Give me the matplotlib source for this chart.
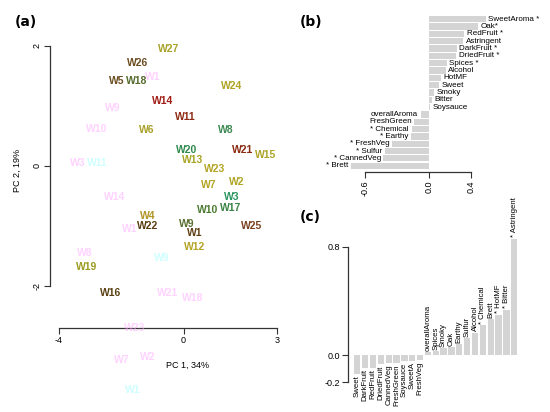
import matplotlib.pyplot as plt

plt.rcParams['font.family'] = ['Liberation Sans', 'DejaVu Sans']

# ---- panel (a): PCA scores ----
wine_names = ["W27", "W26", "W5", "W18", "W24", "W14", "W11", "W6", "W8", "W20",
              "W21", "W15", "W13", "W23", "W7", "W2", "W3", "W10", "W17", "W4",
              "W22", "W9", "W1", "W25", "W12", "W19", "W16"]
pc1 = [-0.47, -1.46, -2.14, -1.50, 1.56, -0.66, 0.05, -1.17, 1.36, 0.11,
       1.91, 2.65, 0.30, 1.00, 0.82, 1.71, 1.56, 0.78, 1.52, -1.14,
       -1.14, 0.11, 0.37, 2.20, 0.37, -3.10, -2.33]
pc2 = [1.95, 1.72, 1.42, 1.42, 1.33, 1.08, 0.82, 0.60, 0.60, 0.27,
       0.27, 0.18, 0.10, -0.05, -0.32, -0.27, -0.52, -0.73, -0.70, -0.83,
       -1.00, -0.97, -1.12, -1.00, -1.35, -1.68, -2.12]
wine_colors = ["#a8a228", "#6b4c1e", "#6b4c1e", "#566a2c", "#b0a424", "#a01c14",
               "#8e2a12", "#aaa026", "#3e8a52", "#2e8a4c", "#8a2a0e", "#aca226",
               "#a8a424", "#b4a424", "#b4a424", "#b0a424", "#2a9460", "#4a7a30",
               "#3a8444", "#b09424", "#5a3c12", "#5a7030", "#5e3e12", "#7a4220",
               "#b4a424", "#9a9a20", "#5a4012"]

# faint offset copies of labels seen in the figure
ghost_names = ["W14", "W3", "W11", "W10", "W9", "W1", "W1", "W8", "W9", "W21",
               "W18", "W23", "W7", "W2", "W1"]
ghost_x = [-2.20, -3.39, -2.78, -2.78, -2.27, -0.98, -1.72, -3.17, -0.69, -0.50,
           0.30, -1.56, -1.98, -1.14, -1.62]
ghost_y = [-0.52, 0.05, 0.05, 0.62, 0.97, 1.48, -1.05, -1.45, -1.53, -2.12,
           -2.20, -2.70, -3.23, -3.18, -3.73]
ghost_colors = ["#ffa8ff", "#ffa8ff", "#a0ffff", "#ffa8ff", "#ffa8ff", "#ffa8ff",
                "#ffa8ff", "#ffa8ff", "#a0ffff", "#ffa8ff", "#ffa8ff", "#ffa8ff",
                "#ffa8ff", "#ffa8ff", "#a0ffff"]

# ---- panel (b): PC1 loadings ----
b_labels = ["SweetAroma *", "Oak*", "RedFruit *", "Astringent", "DarkFruit *",
            "DriedFruit *", "Spices *", "Alcohol", "HotMF", "Sweet", "Smoky",
            "Bitter", "Soysauce", "overallAroma", "FreshGreen", "* Chemical",
            "* Earthy", "* FreshVeg", "* Sulfur", "* CannedVeg", "* Brett"]
b_values = [0.535, 0.465, 0.33, 0.32, 0.26, 0.255, 0.167, 0.157, 0.113, 0.094,
            0.047, 0.028, 0.006, -0.079, -0.138, -0.164, -0.17, -0.346, -0.418,
            -0.43, -0.736]

# ---- panel (c): loadings ----
c_labels = ["Sweet", "DarkFruit", "RedFruit", "DriedFruit", "CannedVeg",
            "FreshGreen", "Soysauce", "SweetA", "FreshVeg", "overallAroma",
            "Spices", "Smoky", "Oak", "Earthy", "Sulfur", "Alcohol", "* Chemical",
            "Brett", "* HotMF", "* Bitter", "* Astringent"]
c_values = [-0.14, -0.094, -0.094, -0.067, -0.062, -0.062, -0.044, -0.044, -0.04,
            0.022, 0.03, 0.049, 0.057, 0.081, 0.123, 0.165, 0.22, 0.267, 0.30,
            0.336, 0.862]

W, H = 550, 412
fig = plt.figure(figsize=(W / 100, H / 100), dpi=100)


def px_axes(left, top, right, bottom):
    return fig.add_axes([left / W, 1 - bottom / H, (right - left) / W, (bottom - top) / H])


def r_style(ax):
    for s in ax.spines.values():
        s.set_visible(False)
    ax.tick_params(length=4, width=0.8, labelsize=6.5, color="#333333", pad=2)


# (a)
ax = px_axes(50, 40, 280, 328)
ax.set_xlim(-4.29, 3.10)
ax.set_ylim(-2.70, 2.10)
r_style(ax)
for s in ("left", "bottom"):
    ax.spines[s].set_visible(True)
    ax.spines[s].set_linewidth(0.9)
    ax.spines[s].set_color("#333333")
ax.spines["left"].set_bounds(-2, 2)
ax.spines["bottom"].set_bounds(-4, 3)
ax.set_xticks([-4, 0, 3])
ax.set_xticklabels(["-4", "0", "3"])
ax.set_yticks([-2, 0, 2])
ax.set_yticklabels(["-2", "0", "2"], rotation=90, va="center")

for name, x, y, c in zip(ghost_names, ghost_x, ghost_y, ghost_colors):
    ax.text(x, y, name, color=c, fontsize=7.5, fontweight="bold", ha="center",
            va="center", alpha=0.5, clip_on=False)
for name, x, y, c in zip(wine_names, pc1, pc2, wine_colors):
    ax.text(x, y, name, color=c, fontsize=7.5, fontweight="bold", ha="center",
            va="center")

fig.text(17 / W, 1 - 170 / H, "PC 2, 19%", rotation=90, fontsize=6.5,
         ha="center", va="center")
fig.text(188 / W, 1 - 365 / H, "PC 1, 34%", fontsize=6.5, ha="center", va="center")

# (b)
axb = px_axes(320, 14, 545, 172)
nb = len(b_values)
pos_b = [nb - 1 - i for i in range(nb)]
axb.barh(pos_b, b_values, height=0.85, color="#d4d4d4")
axb.set_xlim(-1.028, 1.094)
axb.set_ylim(-0.86, 20.72)
r_style(axb)
axb.spines["bottom"].set_visible(True)
axb.spines["bottom"].set_linewidth(0.9)
axb.spines["bottom"].set_color("#333333")
axb.spines["bottom"].set_bounds(-0.6, 0.4)
axb.set_xticks([-0.6, 0.0, 0.4])
axb.set_xticklabels(["-0.6", "0.0", "0.4"], rotation=90)
axb.set_yticks([])
for p, v, lab in zip(pos_b, b_values, b_labels):
    if v >= 0:
        axb.text(v + 0.025, p, lab, ha="left", va="center", fontsize=5.8)
    else:
        axb.text(v - 0.025, p, lab, ha="right", va="center", fontsize=5.8)

# (c)
axc = px_axes(348, 200, 520, 390)
pos_c = list(range(len(c_values)))
axc.bar(pos_c, c_values, width=0.8, color="#d4d4d4")
axc.set_xlim(-1.18, 20.73)
axc.set_ylim(-0.259, 1.148)
r_style(axc)
axc.spines["left"].set_visible(True)
axc.spines["left"].set_linewidth(0.9)
axc.spines["left"].set_color("#333333")
axc.spines["left"].set_bounds(-0.2, 0.8)
axc.set_yticks([-0.2, 0.0, 0.8])
axc.set_yticklabels(["-0.2", "0.0", "0.8"])
axc.set_xticks([])
for p, v, lab in zip(pos_c, c_values, c_labels):
    if v >= 0:
        axc.text(p, v + 0.01, lab, rotation=90, ha="center", va="bottom",
                 fontsize=5.6, clip_on=False)
    else:
        axc.text(p, v - 0.01, lab, rotation=90, ha="center", va="top",
                 fontsize=5.6, clip_on=False)

# panel letters
fig.text(15 / W, 1 - 22 / H, "(a)", fontsize=10, fontweight="bold",
         ha="left", va="center", family="DejaVu Sans")
fig.text(300 / W, 1 - 22 / H, "(b)", fontsize=10, fontweight="bold",
         ha="left", va="center", family="DejaVu Sans")
fig.text(300 / W, 1 - 217 / H, "(c)", fontsize=10, fontweight="bold",
         ha="left", va="center", family="DejaVu Sans")

fig.savefig("out.png", dpi=100)
